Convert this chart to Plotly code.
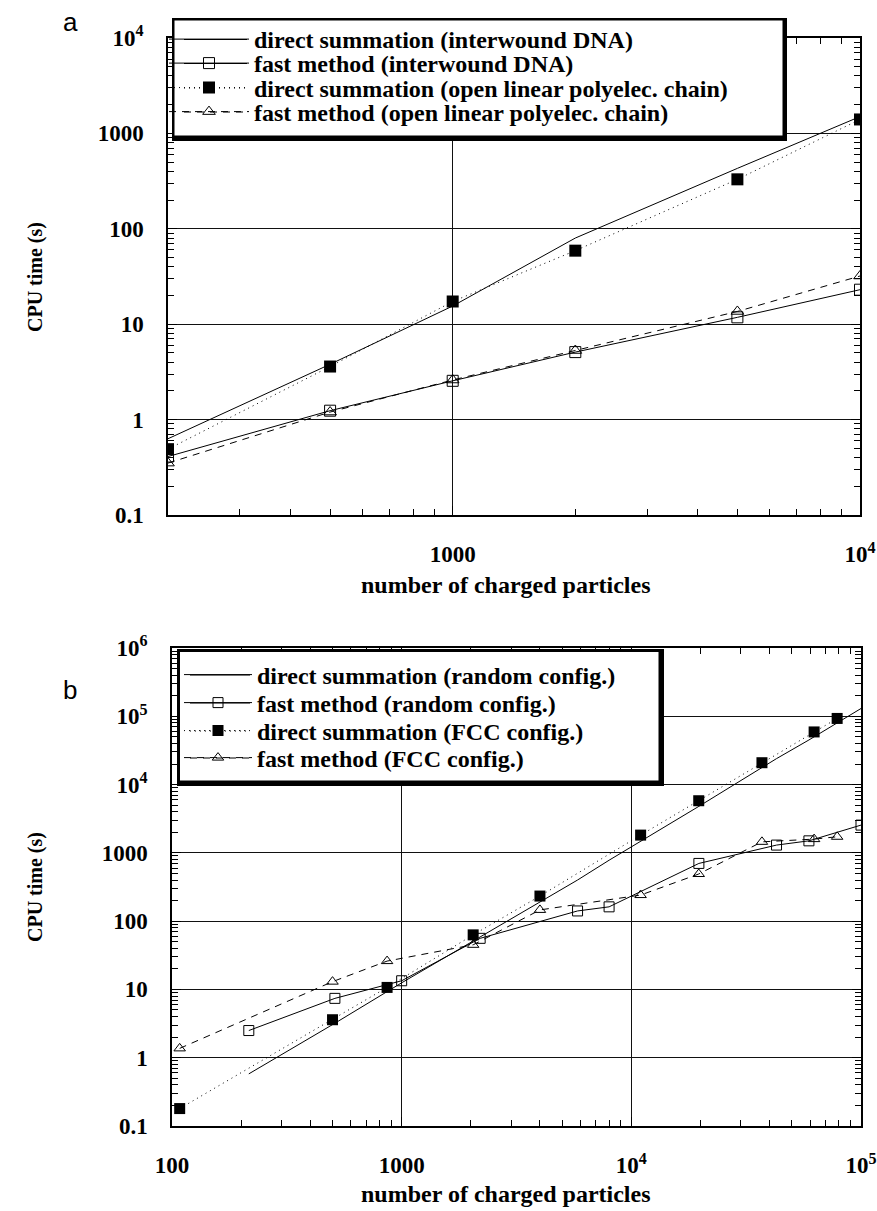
import math
import plotly.graph_objects as go

# ---------------- data ----------------
# panel a
a_x = [200, 500, 1000, 2000, 5000, 10000]
a_direct_dna = [0.63, 3.8, 15.5, 80, 430, 1500]
a_fast_dna = [0.41, 1.24, 2.55, 5.1, 11.8, 23]
a_direct_poly = [0.49, 3.6, 17.3, 59, 330, 1400]
a_fast_poly = [0.35, 1.2, 2.6, 5.3, 13.6, 32]

# panel b
b_rand_x = [216, 512, 1000, 2197, 5832, 8000, 19683, 42875, 59319, 100000]
b_direct_rand = [0.58, 3.2, 12.5, 58, 400, 780, 4800, 24000, 45000, 130000]
b_fast_rand = [2.5, 7.4, 13.4, 56, 141, 162, 700, 1300, 1500, 2550]
b_fcc_x = [108, 500, 864, 2048, 4000, 10976, 19652, 37044, 62500, 78732]
b_direct_fcc = [0.18, 3.6, 10.7, 63, 233, 1820, 5800, 20900, 59000, 93000]
b_fast_fcc = [1.37, 13, 26, 45, 146, 241, 490, 1450, 1590, 1720]

names_a = ["direct summation (interwound DNA)",
           "fast method (interwound DNA)",
           "direct summation (open linear polyelec. chain)",
           "fast method (open linear polyelec. chain)"]
names_b = ["direct summation (random config.)",
           "fast method (random config.)",
           "direct summation (FCC config.)",
           "fast method (FCC config.)"]

a_xticks = [1000, 10000]
a_xtext = ["1000", "10<sup>4</sup>"]
a_yticks = [0.1, 1, 10, 100, 1000, 10000]
a_ytext = ["0.1", "1", "10", "100", "1000", "10<sup>4</sup>"]
b_xticks = [100, 1000, 10000, 100000]
b_xtext = ["100", "1000", "10<sup>4</sup>", "10<sup>5</sup>"]
b_yticks = [0.1, 1, 10, 100, 1000, 10000, 100000, 1000000]
b_ytext = ["0.1", "1", "10", "100", "1000", "10<sup>4</sup>", "10<sup>5</sup>", "10<sup>6</sup>"]

# ---------------- layout helpers ----------------
W, H = 877, 1211
def PX(x): return x / W
def PY(y): return 1 - y / H

SERIF = "Liberation Serif"
DOT = "1px,4px"
DASH = "7px,6px"

def minor_vals(lo, hi):
    out = []
    for k in range(lo, hi):
        for m in range(2, 10):
            out.append(m * 10 ** k)
    return out

fig = go.Figure()

styles = [
    dict(mode="lines", line=dict(color="black", width=1)),
    dict(mode="lines+markers", line=dict(color="black", width=1),
         marker=dict(symbol="square-open", size=11, color="black", line=dict(width=1))),
    dict(mode="lines+markers", line=dict(color="black", width=1, dash=DOT),
         marker=dict(symbol="square", size=12, color="black")),
    dict(mode="lines+markers", line=dict(color="black", width=1, dash=DASH),
         marker=dict(symbol="triangle-up-open", size=11, color="black", line=dict(width=1))),
]

series_a = [(a_x, a_direct_dna), (a_x, a_fast_dna), (a_x, a_direct_poly), (a_x, a_fast_poly)]
series_b = [(b_rand_x, b_direct_rand), (b_rand_x, b_fast_rand), (b_fcc_x, b_direct_fcc), (b_fcc_x, b_fast_fcc)]

for i, (xs, ys) in enumerate(series_a):
    st = dict(styles[i])
    fig.add_trace(go.Scatter(x=xs, y=ys, name=names_a[i], xaxis="x", yaxis="y",
                             legend="legend" if i == 0 else "legend%d" % (i + 1), **st))
for i, (xs, ys) in enumerate(series_b):
    st = dict(styles[i])
    if "marker" in st:
        mk = dict(st["marker"]); mk["size"] = mk["size"] - 1
        st["marker"] = mk
    fig.add_trace(go.Scatter(x=xs, y=ys, name=names_b[i], xaxis="x2", yaxis="y2",
                             legend="legend%d" % (i + 5), **st))

tickfont = dict(family=SERIF, size=23, color="black", weight="bold")
common = dict(type="log", showline=True, linecolor="black", linewidth=1.5, mirror="allticks",
              ticks="inside", ticklen=9, tickcolor="black", tickwidth=1,
              showgrid=True, gridcolor="#111", gridwidth=1, tickfont=tickfont,
              zeroline=False, ticklabelstandoff=18, automargin=False)

fig.update_layout(
    width=W, height=H, margin=dict(l=0, r=0, t=0, b=0, autoexpand=False),
    paper_bgcolor="white", plot_bgcolor="white", showlegend=True,
    xaxis=dict(domain=[PX(168), PX(860)], anchor="y", range=[math.log10(200), 4],
               tickvals=a_xticks, ticktext=a_xtext,
               minor=dict(tickvals=minor_vals(2, 4), ticks="inside", ticklen=6,
                          tickcolor="black", showgrid=False), **common),
    yaxis=dict(domain=[PY(515), PY(38)], anchor="x", range=[-1, 4],
               tickvals=a_yticks, ticktext=a_ytext,
               minor=dict(tickvals=minor_vals(-1, 4), ticks="inside", ticklen=6,
                          tickcolor="black", showgrid=False), **common),
    xaxis2=dict(domain=[PX(172), PX(861)], anchor="y2", range=[2, 5],
                tickvals=b_xticks, ticktext=b_xtext,
                minor=dict(tickvals=minor_vals(2, 5), ticks="inside", ticklen=6,
                           tickcolor="black", showgrid=False), **common),
    yaxis2=dict(domain=[PY(1126), PY(648)], anchor="x2", range=[-1, 6],
                tickvals=b_yticks, ticktext=b_ytext,
                minor=dict(tickvals=minor_vals(-1, 6), ticks="inside", ticklen=6,
                           tickcolor="black", showgrid=False), **common),
)

# ---------------- legends ----------------
legfont = dict(family=SERIF, size=24, color="black", weight="bold")
rows_a = [39.5, 63.5, 88, 112]
rows_b = [675, 703, 731, 758]
for i in range(4):
    key = "legend" if i == 0 else "legend%d" % (i + 1)
    fig.update_layout({key: dict(x=PX(164), y=PY(rows_a[i]), xanchor="left", yanchor="middle",
                                 bgcolor="rgba(0,0,0,0)", borderwidth=0, font=legfont,
                                 itemwidth=80, itemclick=False, itemdoubleclick=False)})
for i in range(4):
    key = "legend%d" % (i + 5)
    fig.update_layout({key: dict(x=PX(179), y=PY(rows_b[i]), xanchor="left", yanchor="middle",
                                 bgcolor="rgba(0,0,0,0)", borderwidth=0, font=legfont,
                                 itemwidth=68, itemclick=False, itemdoubleclick=False)})

shapes = []
def rect(x0, y0, x1, y1, fill):
    shapes.append(dict(type="rect", xref="paper", yref="paper", x0=PX(x0), x1=PX(x1),
                       y0=PY(y1), y1=PY(y0), fillcolor=fill, line=dict(width=0), layer="above"))
# legend box a (with drop shadow)
rect(172, 18, 787, 141, "black")
rect(174.5, 20.5, 782.5, 135.5, "white")
# legend box b
rect(177, 649, 664, 786, "black")
rect(180, 652, 658.5, 780.5, "white")

dashes = [None, None, DOT, DASH]
for i in range(4):
    for rows, x0, x1 in ((rows_a, 184, 247), (rows_b, 190, 250)):
        ln = dict(color="black", width=1)
        if dashes[i]:
            ln["dash"] = dashes[i]
        shapes.append(dict(type="line", xref="paper", yref="paper", x0=PX(x0), x1=PX(x1),
                           y0=PY(rows[i]), y1=PY(rows[i]), line=ln, layer="above"))
fig.update_layout(shapes=shapes)

# ---------------- annotations ----------------
titlefont = dict(family=SERIF, size=20, color="black", weight="bold")
xtitlefont = dict(family=SERIF, size=24, color="black", weight="bold")
ann = [
    dict(text="a", x=PX(70), y=PY(22), font=dict(family="Liberation Sans", size=26, color="black")),
    dict(text="b", x=PX(70), y=PY(690), font=dict(family="Liberation Sans", size=26, color="black")),
    dict(text="CPU time (s)", x=PX(35), y=PY(277), textangle=-90, font=titlefont),
    dict(text="CPU time (s)", x=PX(35), y=PY(887), textangle=-90, font=titlefont),
    dict(text="number of charged particles", x=PX(506), y=PY(585), font=xtitlefont),
    dict(text="number of charged particles", x=PX(506), y=PY(1194), font=xtitlefont),
]
for a in ann:
    a.update(xref="paper", yref="paper", showarrow=False, xanchor="center", yanchor="middle")
fig.update_layout(annotations=ann)

# remove the default 8px page margin so the figure fills the window exactly
fig.write_html("out.html", config={"displayModeBar": False},
               post_script="document.body.style.margin='0px';")
